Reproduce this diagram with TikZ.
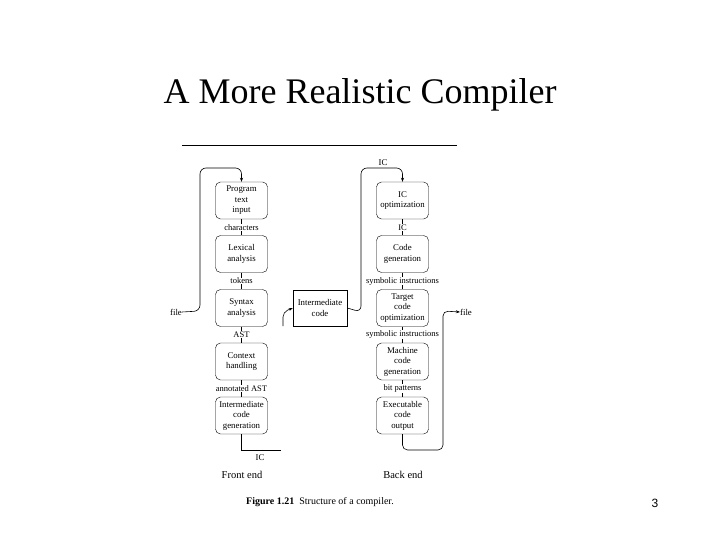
\documentclass[tikz,border=0pt]{standalone}
\usepackage{fontspec}
\setmainfont{Liberation Serif}
\newfontfamily\pagefont{Liberation Sans}
\usetikzlibrary{arrows.meta}
\begin{document}
\begin{tikzpicture}[x=1pt,y=-1pt,
  stage/.style={draw,rounded corners=5pt,minimum width=52pt,minimum height=37pt,align=center,inner sep=0.5pt,font=\fontsize{8.8}{10.5}\selectfont},
  plainbox/.style={draw,minimum width=54pt,minimum height=36pt,align=center,inner sep=0.5pt,font=\fontsize{8.8}{10.5}\selectfont},
  lbl/.style={fill=white,inner sep=0.5pt,font=\fontsize{8.5}{10}\selectfont},
  txt/.style={inner sep=0pt,font=\fontsize{8.8}{10}\selectfont},
  conn/.style={line width=0.6pt},
  arr/.style={line width=0.6pt,-{Stealth[length=4pt,width=3pt]}}]
\useasboundingbox (0,0) rectangle (720,540);
\fill[white] (0,0) rectangle (720,540);
\node[inner sep=0pt,font=\fontsize{36}{40}\selectfont] (title) at (360,95) {A More Realistic Compiler};
\coordinate (r1) at (182,145);
\coordinate (r2) at (457,145);
\draw[line width=0.7pt] (r1) -- (r2);
% front end
\node[stage] (pti) at (241.5,200.5) {Program\\text\\input};
\node[stage] (lex) at (241.5,254) {Lexical\\analysis};
\node[stage] (syn) at (241.5,308) {Syntax\\analysis};
\node[stage] (ctx) at (241.5,361.5) {Context\\handling};
\node[stage] (icg) at (241.5,415.5) {Intermediate\\code\\generation};
\draw[conn] (pti) -- node[lbl]{characters} (lex);
\draw[conn] (lex) -- node[lbl]{tokens} (syn);
\draw[conn] (syn) -- node[lbl]{AST} (ctx);
\draw[conn] (ctx) -- node[lbl]{annotated AST} (icg);
% middle
\node[plainbox] (imc) at (320,308) {Intermediate\\code};
% back end
\node[stage] (ico) at (402.5,200.5) {IC\\optimization};
\node[stage] (cg) at (402.5,254) {Code\\generation};
\node[stage] (tco) at (402.5,308) {Target\\code\\optimization};
\node[stage] (mcg) at (402.5,361.5) {Machine\\code\\generation};
\node[stage] (eco) at (402.5,415.5) {Executable\\code\\output};
\draw[conn] (ico) -- node[lbl]{IC} (cg);
\draw[conn] (cg) -- node[lbl]{symbolic instructions} (tco);
\draw[conn] (tco) -- node[lbl]{symbolic instructions} (mcg);
\draw[conn] (mcg) -- node[lbl]{bit patterns} (eco);
% file input loop
\node[txt] (fin) at (176,312) {file};
\draw[arr,rounded corners=6pt] (fin.east) -- (200,311) -- (200,168) -- (241.5,168) -- (pti.north);
% IC out of front end
\coordinate (icend) at (281,450);
\draw[conn] (icg.south) -- (241.5,450) -- (icend);
\node[txt] (iclbl) at (260,458) {IC};
\draw[arr,rounded corners=5pt] (283,326) -- (283,312) -- (imc.west);
% IC into back end
\node[txt] (ictop) at (383,163) {IC};
\draw[arr,rounded corners=6pt] (imc.east) -- (361,312) -- (361,168) -- (402.5,168) -- (ico.north);
% file output
\node[txt] (fout) at (466,312) {file};
\draw[arr,rounded corners=5pt] (eco.south) -- (402.5,450) -- (443,450) -- (443,311) -- (fout.west);
% captions
\node[inner sep=0pt,font=\fontsize{10.5}{12}\selectfont] (fe) at (242,475) {Front end};
\node[inner sep=0pt,font=\fontsize{10.5}{12}\selectfont] (be) at (403,475) {Back end};
\node[inner sep=0pt,anchor=west,font=\fontsize{10}{12}\selectfont] (cap) at (246,502) {\textbf{Figure 1.21}\ \ Structure of a compiler.};
\node[inner sep=0pt,font=\pagefont\fontsize{12}{14}\selectfont] (pg) at (655,503) {3};
\end{tikzpicture}
\end{document}
